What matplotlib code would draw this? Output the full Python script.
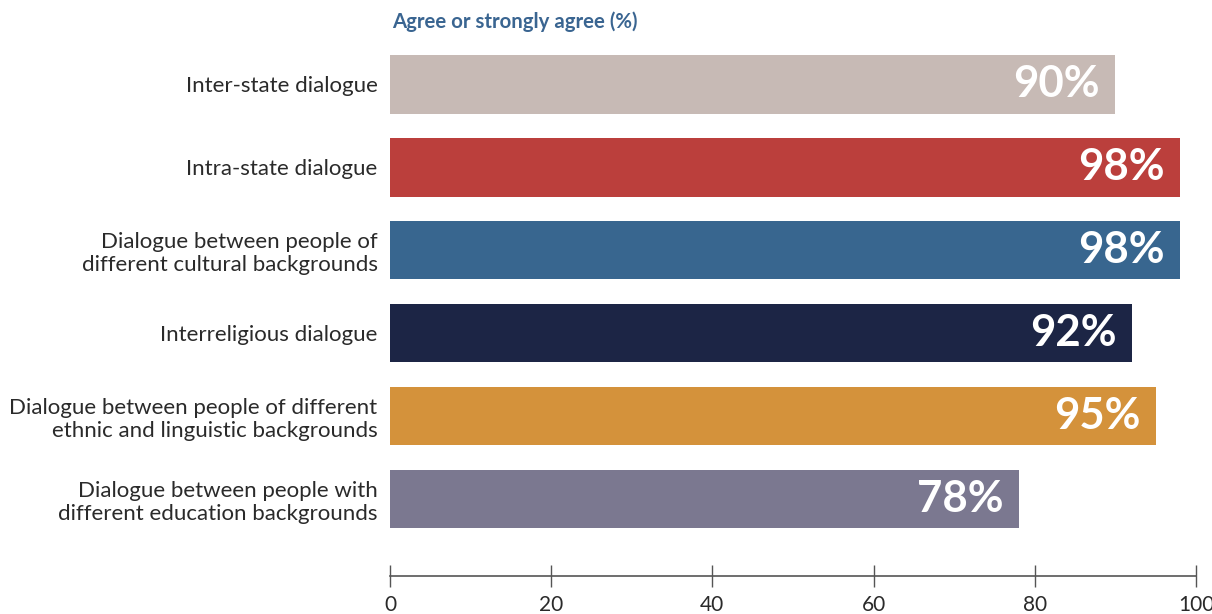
import matplotlib.pyplot as plt

categories = [
    "Inter-state dialogue",
    "Intra-state dialogue",
    "Dialogue between people of\ndifferent cultural backgrounds",
    "Interreligious dialogue",
    "Dialogue between people of different\nethnic and linguistic backgrounds",
    "Dialogue between people with\ndifferent education backgrounds",
]
values = [90, 98, 98, 92, 95, 78]
colors = ["#c7bab5", "#bb3f3c", "#38668f", "#1c2545", "#d4923b", "#7b7890"]
xticks = [0, 20, 40, 60, 80, 100]

plt.rcParams['font.family'] = ['Lato', 'DejaVu Sans']

fig = plt.figure(figsize=(12.12, 6.14), dpi=100)
ax = fig.add_axes([390 / 1212, 38 / 614, (1196 - 390) / 1212, (576 - 38) / 614])

pos = list(range(len(categories)))
ax.barh(pos, values, height=0.71, color=colors)

for p, v in zip(pos, values):
    ax.text(v - 1.9, p, f"{v}%", ha='right', va='center', color='white',
            fontsize=31.5, fontweight='bold')

ax.set_xlim(0, 100)
ax.set_ylim(len(categories) - 1 + 0.928, -0.555)
ax.set_yticks(pos)
ax.set_yticklabels(categories, fontsize=16, color='#2a2a2a', linespacing=1.2)
ax.tick_params(axis='y', length=0, pad=9)
ax.set_xticks(xticks)
ax.set_xticklabels([str(t) for t in xticks], fontsize=15, color='#2a2a2a')
ax.tick_params(axis='x', direction='inout', length=16, width=1, color='#555555', pad=6)

for s in ['top', 'right', 'left']:
    ax.spines[s].set_visible(False)
ax.spines['bottom'].set_color('#555555')
ax.spines['bottom'].set_linewidth(1.2)

fig.text(392 / 1212, 1 - 22 / 614, "Agree or strongly agree (%)", ha='left', va='center',
         fontsize=14.7, fontweight='bold', color='#3a6591')

fig.savefig('out.png', dpi=100)
